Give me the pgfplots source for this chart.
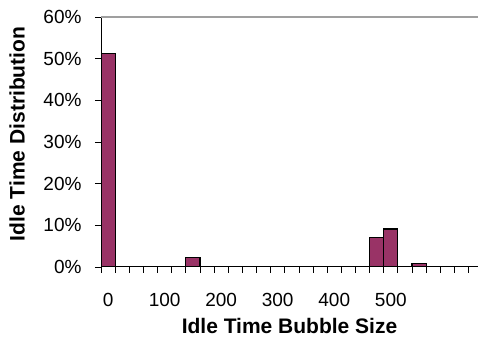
\documentclass[border=0pt]{standalone}
\usepackage{fontspec}
\setmainfont{Liberation Sans}
\usepackage{pgfplots}
\pgfplotsset{compat=1.18}
\definecolor{barcolor}{RGB}{153,51,102}
\begin{document}
\begin{tikzpicture}
\begin{axis}[
  scale only axis,
  width=377pt, height=250pt,
  xmin=-0.5, xmax=26.17,
  ymin=0, ymax=60,
  axis lines*=left,
  axis line style={black, line width=1pt},
  tick align=outside,
  major tick length=6pt,
  tick style={black, line width=0.8pt},
  /pgf/number format/assume math mode=true,
  ytick={0,10,...,60},
  yticklabel={\pgfmathprintnumber{\tick}\%},
  extra y ticks={60},
  extra y tick labels={},
  extra y tick style={grid=major, major grid style={gray!75, line width=1.2pt}, major tick length=0pt},
  xtick={-0.5,0.5,...,25.5},
  xticklabels={},
  extra x ticks={0,4,8,12,16,20},
  extra x tick labels={0,100,200,300,400,500},
  extra x tick style={major tick length=0pt},
  ticklabel style={font=\fontsize{19}{22}\selectfont},
  yticklabel style={anchor=east, xshift=-10pt},
  xticklabel style={anchor=base, yshift=-40pt},
  xlabel={Idle Time Bubble Size},
  ylabel={Idle Time Distribution},
  label style={font=\bfseries\fontsize{21}{24}\selectfont},
  xlabel style={at={(axis description cs:0.5,0)}, anchor=base, yshift=-67pt},
  ylabel style={at={(axis description cs:-0.2228,0.532)}, anchor=center, rotate=0},
  ybar, bar width=1,
]
\addplot[fill=barcolor, draw=black, line width=1.2pt] coordinates {
  (0,51.3) (6,2.3) (19,7.1) (20,9.1) (22,0.9)
};
\end{axis}
\pgfresetboundingbox
\path[use as bounding box] ([xshift=-101pt,yshift=-70pt]current axis.south west) rectangle ([yshift=17pt]current axis.north east);
\end{tikzpicture}
\end{document}
